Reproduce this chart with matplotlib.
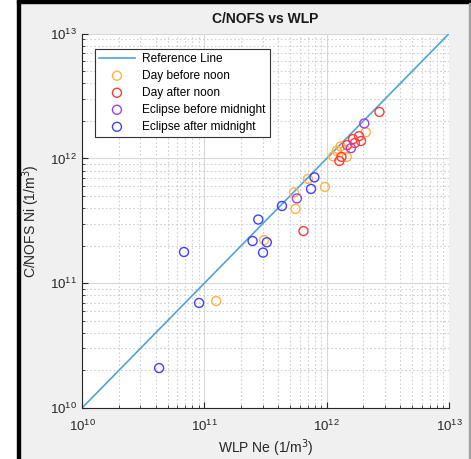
import numpy as np
import matplotlib
matplotlib.use("Agg")
from matplotlib import pyplot as plt
from matplotlib.patches import Rectangle

plt.rcParams['font.family'] = ['Liberation Sans', 'DejaVu Sans']

# 数据 (WLP Ne, C/NOFS Ni)
day_am_x = [1.25e11, 3.08e11, 5.56e11, 5.41e11, 7.03e11, 9.68e11, 1.13e12, 1.41e12, 1.30e12, 1.46e12, 2.09e12, 1.21e12]
day_am_y = [7.2e10, 2.22e11, 3.94e11, 5.35e11, 6.85e11, 5.91e11, 1.04e12, 1.17e12, 1.25e12, 1.03e12, 1.62e12, 1.15e12]

day_pm_x = [6.46e11, 1.27e12, 1.32e12, 1.47e12, 1.64e12, 1.70e12, 1.84e12, 1.91e12, 2.70e12]
day_pm_y = [2.62e11, 9.55e11, 1.03e12, 1.28e12, 1.43e12, 1.33e12, 1.51e12, 1.38e12, 2.36e12]

ecl_bm_x = [5.71e11, 1.58e12, 2.03e12]
ecl_bm_y = [4.78e11, 1.21e12, 1.91e12]

ecl_am_x = [4.27e10, 6.82e10, 9.06e10, 2.48e11, 3.24e11, 3.02e11, 2.76e11, 4.31e11, 7.45e11, 7.94e11]
ecl_am_y = [2.09e10, 1.78e11, 6.95e10, 2.18e11, 2.13e11, 1.76e11, 3.24e11, 4.16e11, 5.70e11, 7.06e11]

ref = [1e10, 1e13]

fig = plt.figure(figsize=(4.71, 4.59), dpi=100, facecolor='#f0f0f0')

# 边框
fig.add_artist(Rectangle((0, 0), 17 / 471, 1, transform=fig.transFigure, color='white', zorder=0))
fig.add_artist(Rectangle((17 / 471, 0), 2.5 / 471, 1, transform=fig.transFigure, color='black', zorder=5))
fig.add_artist(Rectangle((17 / 471, 1 - 2.5 / 459), 1, 2.5 / 459, transform=fig.transFigure, color='black', zorder=5))
fig.add_artist(Rectangle((1 - 2 / 471, 0), 2 / 471, 1 - 2.5 / 459, transform=fig.transFigure, color='#a0a0a0', zorder=5))

ax = fig.add_axes([82 / 471, 51 / 459, 367 / 471, 374.3 / 459])
ax.set_facecolor('white')
ax.set_xscale('log')
ax.set_yscale('log')
ax.set_xlim(1e10, 1e13)
ax.set_ylim(1e10, 1e13)

ax.plot(ref, ref, color='#4fa3d8', lw=1.2, label='Reference Line', zorder=2)
ms = 42
ax.scatter(day_am_x, day_am_y, s=ms, facecolors='none', edgecolors='#ffb347', linewidths=1, label='Day before noon', zorder=3)
ax.scatter(day_pm_x, day_pm_y, s=ms, facecolors='none', edgecolors='#ff3b3b', linewidths=1, label='Day after noon', zorder=3)
ax.scatter(ecl_bm_x, ecl_bm_y, s=ms, facecolors='none', edgecolors='#a040e8', linewidths=1, label='Eclipse before midnight', zorder=3)
ax.scatter(ecl_am_x, ecl_am_y, s=ms, facecolors='none', edgecolors='#4040ff', linewidths=1, label='Eclipse after midnight', zorder=3)

# 网格
ax.grid(True, which='major', color='#d8d8d8', lw=0.8, ls='-')
ax.grid(True, which='minor', color='#d0d0d0', lw=0.8, ls=(0, (1.5, 2)))
ax.set_axisbelow(True)

for s in ['top', 'right']:
    ax.spines[s].set_visible(False)
for s in ['left', 'bottom']:
    ax.spines[s].set_color('#262626')
    ax.spines[s].set_linewidth(0.8)

ax.set_xticks([1e10, 1e11, 1e12, 1e13])
ax.set_yticks([1e10, 1e11, 1e12, 1e13])
ax.tick_params(which='both', direction='in', colors='#262626', labelsize=9.5)
ax.tick_params(which='major', length=4)
ax.tick_params(which='minor', length=2)
ax.tick_params(axis='x', pad=8)

ax.set_xlabel("WLP Ne (1/m$^3$)", fontsize=10, color='#262626', labelpad=2)
ax.set_ylabel("C/NOFS Ni (1/m$^3$)", fontsize=10, color='#262626', labelpad=6)
ax.set_title("C/NOFS vs WLP", fontsize=10, fontweight='bold', color='#1a1a1a', pad=8)

leg = ax.legend(loc='upper left', bbox_to_anchor=(0.035, 0.96), borderaxespad=0, fontsize=8.6,
                frameon=True, fancybox=False, edgecolor='#333333', framealpha=1,
                handlelength=3.0, handletextpad=0.6, labelspacing=0.42, borderpad=0.35)
leg.get_frame().set_linewidth(0.8)

plt.savefig('out.png', dpi=100, facecolor=fig.get_facecolor())
